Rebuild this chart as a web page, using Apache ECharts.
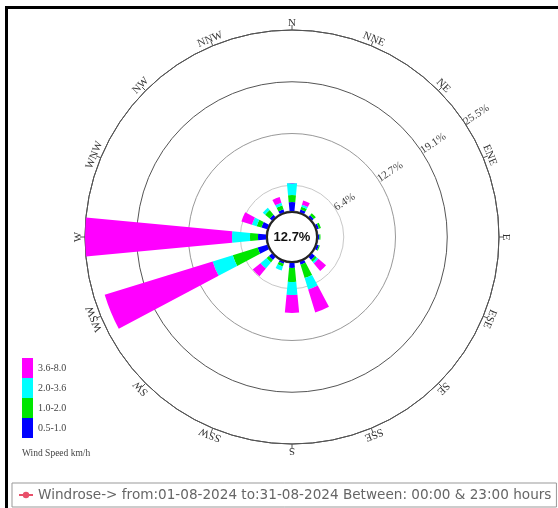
<!DOCTYPE html>
<html>
<head>
<meta charset="utf-8">
<script src="https://cdn.jsdelivr.net/npm/echarts@6/dist/echarts.min.js"></script>
<style>
  html, body { margin: 0; padding: 0; background: #fff; }
  #chart { position: absolute; left: 0; top: 0; width: 558px; height: 508px; }
  #frame { position: absolute; left: 5px; top: 6px; width: 560px; height: 510px;
           border-left: 3px solid #000; border-top: 3px solid #000; pointer-events: none; }
</style>
</head>
<body>
<div id="chart"></div>
<div id="frame"></div>
<script>
var directions = ['N', 'NNE', 'NE', 'ENE', 'E', 'ESE', 'SE', 'SSE', 'S', 'SSW', 'SW', 'WSW', 'W', 'WNW', 'NW', 'NNW'];
var speedClasses = ['0.5-1.0', '1.0-2.0', '2.0-3.6', '3.6-8.0'];
var speedColors = ['#0000ff', '#00e600', '#00ffff', '#ff00ff'];
// percent of time per direction, one list per speed class
var blue    = [1.27, 0.4, 0.3, 0.3, 0.2, 0.3, 0.56, 0.42, 0.7, 0.28, 0.56, 1.41, 1.13, 0.84, 0.42, 0.42];
var green   = [0.99, 0.4, 0.4, 0.3, 0.15, 0.15, 0.3, 1.97, 1.97, 0.42, 0.42, 3.66, 1.13, 0.7, 0.84, 0.56];
var cyan    = [1.69, 0.3, 0, 0, 0, 0, 0.3, 1.69, 1.83, 0.56, 1.13, 2.96, 2.53, 0.7, 0.42, 0.42];
var magenta = [0, 0.6, 0, 0, 0, 0, 1.4, 3.38, 2.53, 0, 1.41, 15.9, 20.7, 1.55, 0, 0.84];
var calm = 12.7;
var ringStep = 6.37;
var ringMax = 25.48;
var ringLabels = ['6.4%', '12.7%', '19.1%', '25.5%'];
var footerText = 'Windrose-> from:01-08-2024 to:31-08-2024 Between: 00:00 & 23:00 hours';

var center = [292, 237];
var chart = echarts.init(document.getElementById('chart'), null, { renderer: 'canvas' });

var series = [blue, green, cyan, magenta].map(function(vals, i) {
  return {
    name: speedClasses[i],
    type: 'bar',
    coordinateSystem: 'polar',
    polarIndex: 1,
    stack: 'rose',
    barWidth: '48%',
    data: vals,
    itemStyle: { color: speedColors[i] },
    silent: true
  };
});

// direction names, written along the outer circle
series.push({
  type: 'custom',
  coordinateSystem: 'polar',
  polarIndex: 1,
  silent: true,
  data: directions.map(function(d, i) { return [ringMax, i]; }),
  renderItem: function(params, api) {
    var idx = api.value(1);
    var p = api.coord([api.value(0), idx]);
    var cx = params.coordSys.cx, cy = params.coordSys.cy;
    var dx = p[0] - cx, dy = p[1] - cy;
    var r = Math.sqrt(dx * dx + dy * dy);
    var bearing = Math.atan2(dx, -dy);
    return {
      type: 'text',
      x: cx + dx / r * (r + 7),
      y: cy + dy / r * (r + 7),
      rotation: -bearing,
      style: {
        text: directions[idx], align: 'center', verticalAlign: 'middle',
        fill: '#333', font: '11px "Liberation Serif"'
      }
    };
  }
});

series.push({
  type: 'pie',
  center: center,
  radius: [0, 25],
  silent: true,
  z: 5,
  data: [{ value: calm, name: 'Calm' }],
  itemStyle: { color: '#fff', borderColor: '#222', borderWidth: 2 },
  label: { show: true, position: 'center', formatter: '{c}%', color: '#111', fontFamily: 'Liberation Sans', fontWeight: 'bold', fontSize: 13 },
  labelLine: { show: false }
});
series.push({
  name: footerText,
  type: 'line',
  coordinateSystem: 'polar',
  polarIndex: 0,
  data: [],
  symbol: 'circle',
  symbolSize: 6,
  itemStyle: { color: '#e8506a' },
  lineStyle: { color: '#e8506a' }
});

chart.setOption({
  animation: false,
  backgroundColor: '#fff',
  title: [{
    text: 'Wind Speed km/h',
    left: 17, top: 443,
    textStyle: { fontFamily: 'Liberation Serif', fontSize: 9.5, fontWeight: 'normal', color: '#444' }
  }],
  polar: [
    { center: center, radius: [0, 207] },
    { center: center, radius: [26, 207] }
  ],
  angleAxis: [
    {
      polarIndex: 0, type: 'value', min: 0, max: 360, startAngle: 33.5,
      axisLine: { show: false }, axisTick: { show: false }, axisLabel: { show: false }, splitLine: { show: false }
    },
    {
      polarIndex: 1, type: 'category', data: directions, startAngle: 90 + 11.25, clockwise: true,
      boundaryGap: true,
      axisLine: { lineStyle: { color: '#555', width: 1 } },
      axisTick: { show: true, alignWithLabel: true, length: 5, lineStyle: { color: '#555' } },
      axisLabel: { show: false },
      splitLine: { show: false }
    }
  ],
  radiusAxis: [
    {
      polarIndex: 0, type: 'value', min: 0, max: ringMax, interval: ringStep,
      axisLine: { show: false }, axisTick: { show: false },
      axisLabel: {
        show: true, rotate: 33.5, margin: 0, align: 'left', verticalAlign: 'middle', color: '#444',
        fontFamily: 'Liberation Serif', fontSize: 11,
        formatter: function(v, i) { return i > 0 ? ringLabels[i - 1] : ''; }
      },
      splitLine: { show: true, lineStyle: { color: ['#ccc', '#c8c8c8', '#999', '#555', '#444'], width: 1 } }
    },
    {
      polarIndex: 1, type: 'value', min: 0, max: ringMax,
      axisLine: { show: false }, axisTick: { show: false }, axisLabel: { show: false }, splitLine: { show: false }
    }
  ],
  legend: [
    {
      data: speedClasses.slice().reverse(),
      orient: 'vertical', left: 17, top: 353,
      itemWidth: 11, itemHeight: 20, itemGap: 0,
      icon: 'rect',
      selectedMode: false,
      textStyle: { fontFamily: 'Liberation Serif', fontSize: 10, color: '#444' }
    },
    {
      data: [footerText],
      left: 12, top: 483,
      padding: [5, 5, 5, 6],
      borderColor: '#999', borderWidth: 1,
      itemWidth: 14, itemHeight: 8,
      selectedMode: false,
      textStyle: { fontFamily: 'DejaVu Sans', fontSize: 13.6, color: '#666' }
    }
  ],
  series: series
});
window.addEventListener('resize', function() { chart.resize(); });
</script>
</body>
</html>
